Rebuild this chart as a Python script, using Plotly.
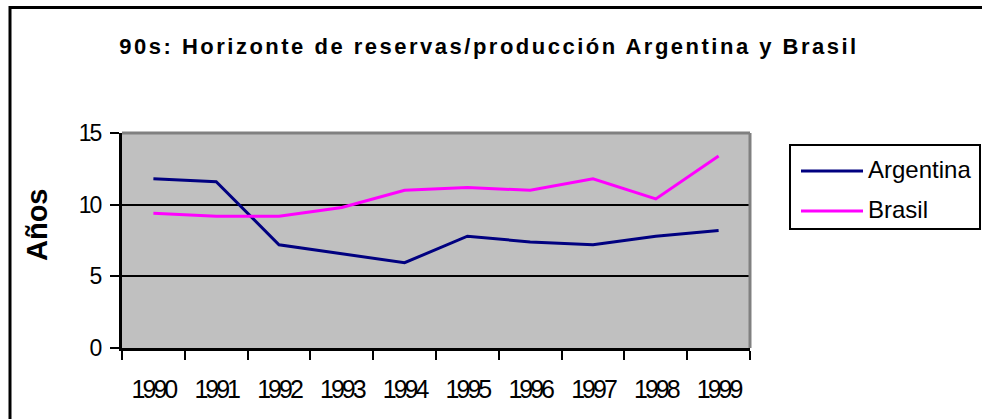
import plotly.graph_objects as go

years = ["1990", "1991", "1992", "1993", "1994", "1995", "1996", "1997", "1998", "1999"]
argentina = [11.8, 11.6, 7.2, 6.6, 5.95, 7.8, 7.4, 7.2, 7.8, 8.2]
brasil = [9.4, 9.2, 9.2, 9.8, 11.0, 11.2, 11.0, 11.8, 10.4, 13.4]
y_ticks = [0, 5, 10, 15]
series_names = ["Argentina", "Brasil"]
series_colors = ["#000080", "#FF00FF"]

FONT = "Liberation Sans, Arial, sans-serif"

fig = go.Figure()
for name, vals, col in zip(series_names, [argentina, brasil], series_colors):
    fig.add_trace(go.Scatter(x=years, y=vals, mode="lines", name=name,
                             line=dict(color=col, width=3), showlegend=False))

W, H = 982, 419
L, R, T, B = 122, 232, 133, 71
pw, ph = W - L - R, H - T - B


def px_x(x):
    return (x - L) / pw


def px_y(y):
    return (H - B - y) / ph


fig.update_layout(
    width=W, height=H,
    margin=dict(l=L, r=R, t=T, b=B, autoexpand=False),
    paper_bgcolor="white",
    plot_bgcolor="#C0C0C0",
    font=dict(family=FONT, color="black"),
    title=dict(text="<b>90s: Horizonte de reservas/producción Argentina y Brasil</b>",
               x=489 / W, xref="container", xanchor="center",
               y=1 - 46 / H, yanchor="middle", yref="container",
               font=dict(family=FONT, size=22, color="black")),
    xaxis=dict(type="category", tickson="boundaries", ticks="outside", ticklen=9,
               tickwidth=2, tickcolor="black", showline=True, linecolor="black",
               linewidth=3, showgrid=False, tickfont=dict(size=25, family=FONT),
               tickangle=0, ticklabelstandoff=17, range=[-0.5, 9.5]),
    yaxis=dict(range=[0, 15], tickvals=y_ticks, ticks="outside", ticklen=9,
               tickwidth=2, tickcolor="black", showline=True, linecolor="black",
               linewidth=3, showgrid=True, gridcolor="black", gridwidth=2,
               zeroline=False, tickfont=dict(size=23, family=FONT),
               ticklabelstandoff=5),
    showlegend=False,
)

# y-axis title
fig.add_annotation(text="<b>Años</b>", xref="paper", yref="paper",
                   x=px_x(37), y=px_y(225), xanchor="center", yanchor="middle",
                   textangle=-90, showarrow=False,
                   font=dict(size=29, family=FONT, color="black"))

# plot-area top/right border (gray)
fig.add_shape(type="line", xref="paper", yref="paper", x0=0, x1=1, y0=1, y1=1,
              line=dict(color="#808080", width=3), layer="above")
fig.add_shape(type="line", xref="paper", yref="paper", x0=1, x1=1, y0=0, y1=1,
              line=dict(color="#808080", width=3), layer="above")

# chart-area frame (top and left visible)
fig.add_shape(type="rect", xref="paper", yref="paper",
              x0=px_x(10), x1=px_x(1100), y0=px_y(7.5), y1=px_y(600),
              line=dict(color="black", width=3), fillcolor="rgba(0,0,0,0)", layer="above")

# legend box
fig.add_shape(type="rect", xref="paper", yref="paper",
              x0=px_x(790), x1=px_x(980), y0=px_y(145), y1=px_y(229),
              line=dict(color="black", width=2), fillcolor="white", layer="above")
legend_rows = [171, 211]
for name, col, ry in zip(series_names, series_colors, legend_rows):
    fig.add_shape(type="line", xref="paper", yref="paper",
                  x0=px_x(801), x1=px_x(863), y0=px_y(ry), y1=px_y(ry),
                  line=dict(color=col, width=3), layer="above")
    fig.add_annotation(text=name, xref="paper", yref="paper",
                       x=px_x(866), y=px_y(ry - 2), xanchor="left", yanchor="middle",
                       showarrow=False, font=dict(size=24, family=FONT, color="black"))

post = """
document.body.style.margin='0';
document.querySelectorAll('.gtitle').forEach(function(e){e.style.letterSpacing='2.5px';});
document.querySelectorAll('.xtick text').forEach(function(e){e.style.letterSpacing='-3px';});
document.querySelectorAll('.ytick text').forEach(function(e){e.style.letterSpacing='-2px';});
"""

fig.write_html("out.html", post_script=post, config={"displayModeBar": False})
